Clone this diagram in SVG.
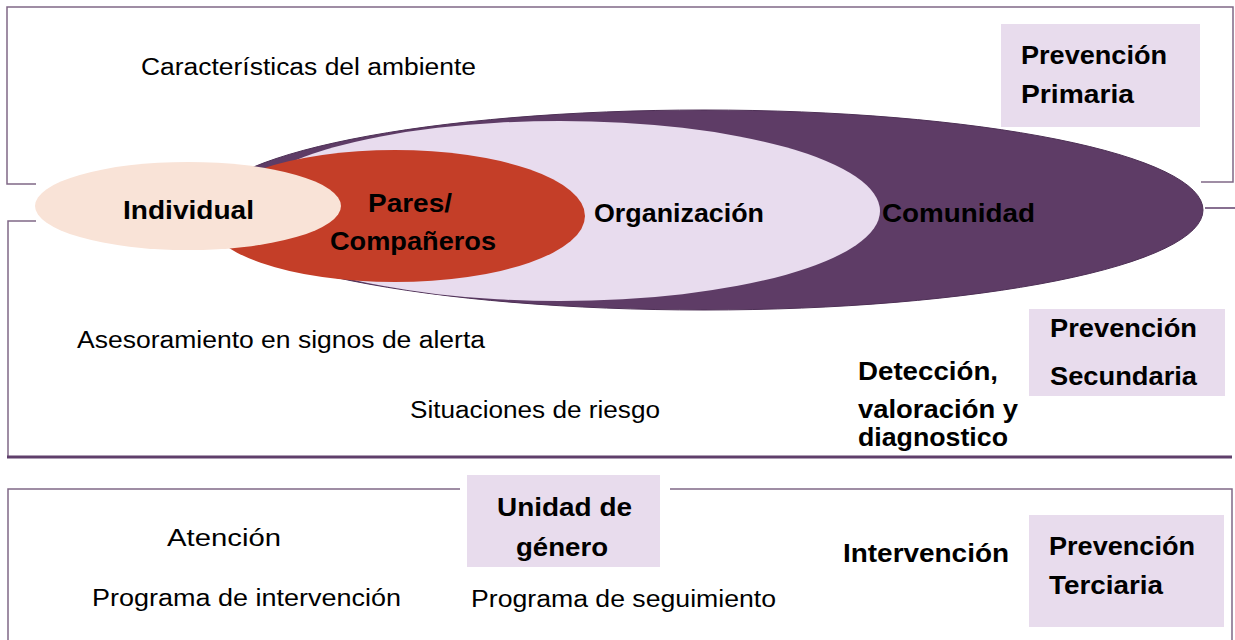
<svg xmlns="http://www.w3.org/2000/svg" width="1235" height="640" viewBox="0 0 1235 640">
<style>
.fr{fill:none;stroke:#806887;stroke-width:1.5}
.frt{fill:none;stroke:#5f3f6b;stroke-width:3}
.lil{fill:#e8dced}
.r{font-family:"Liberation Sans",Arial,sans-serif;font-size:23px;fill:#000}
.b{font-family:"Liberation Sans",Arial,sans-serif;font-size:26px;font-weight:bold;fill:#000}
</style>
<rect width="1235" height="640" fill="#fff"/>
<g id="frames">
<polyline class="fr" points="36,184 7,184 7,7 1233,7 1233,182 1201,182"/>
<polyline class="fr" points="36,221 8,221 8,457"/>
<line class="frt" x1="7" y1="457" x2="1232" y2="457"/>
<line class="fr" x1="1205" y1="208" x2="1235" y2="208" stroke-width="2" style="stroke:#5f3f6b"/>
<polyline class="fr" points="460,489 8,489 8,640"/>
<polyline class="fr" points="670,489 1232,489 1232,640"/>
</g>
<g id="comunidad">
<ellipse cx="704" cy="210" rx="499" ry="100" fill="#5e3c66" stroke="#4e3056" stroke-width="1"/>
<text class="b" x="882" y="222" textLength="153" lengthAdjust="spacingAndGlyphs">Comunidad</text>
</g>
<g id="organizacion">
<ellipse cx="560" cy="211" rx="320" ry="90" fill="#e8dcee"/>
<text class="b" x="594" y="222" textLength="170" lengthAdjust="spacingAndGlyphs">Organización</text>
</g>
<g id="pares">
<ellipse cx="395" cy="216" rx="190" ry="66" fill="#c43e28"/>
<text class="b" x="368" y="212" textLength="84" lengthAdjust="spacingAndGlyphs">Pares/</text>
<text class="b" x="330" y="250" textLength="166" lengthAdjust="spacingAndGlyphs">Compañeros</text>
</g>
<g id="individual">
<ellipse cx="188" cy="206" rx="153" ry="44" fill="#f9e3d7"/>
<text class="b" x="123" y="219" textLength="131" lengthAdjust="spacingAndGlyphs">Individual</text>
</g>
<g id="ambiente">
<text class="r" x="141" y="75" textLength="335" lengthAdjust="spacingAndGlyphs">Características del ambiente</text>
</g>
<g id="prev-primaria">
<rect class="lil" x="1001" y="24" width="199" height="103"/>
<text class="b" x="1021" y="64" textLength="146" lengthAdjust="spacingAndGlyphs">Prevención</text>
<text class="b" x="1021" y="103" textLength="113" lengthAdjust="spacingAndGlyphs">Primaria</text>
</g>
<g id="asesoramiento">
<text class="r" x="77" y="348" textLength="408" lengthAdjust="spacingAndGlyphs">Asesoramiento en signos de alerta</text>
</g>
<g id="situaciones">
<text class="r" x="410" y="418" textLength="250" lengthAdjust="spacingAndGlyphs">Situaciones de riesgo</text>
</g>
<g id="deteccion">
<text class="b" x="858" y="380" textLength="140" lengthAdjust="spacingAndGlyphs">Detección,</text>
<text class="b" x="858" y="418" textLength="160" lengthAdjust="spacingAndGlyphs">valoración y</text>
<text class="b" x="858" y="446" textLength="150" lengthAdjust="spacingAndGlyphs">diagnostico</text>
</g>
<g id="prev-secundaria">
<rect class="lil" x="1029" y="309" width="196" height="87"/>
<text class="b" x="1050" y="337" textLength="147" lengthAdjust="spacingAndGlyphs">Prevención</text>
<text class="b" x="1050" y="385" textLength="147" lengthAdjust="spacingAndGlyphs">Secundaria</text>
</g>
<g id="unidad-genero">
<rect class="lil" x="467" y="475" width="193" height="92"/>
<text class="b" x="497" y="516" textLength="135" lengthAdjust="spacingAndGlyphs">Unidad de</text>
<text class="b" x="516" y="556" textLength="92" lengthAdjust="spacingAndGlyphs">género</text>
</g>
<g id="atencion">
<text class="r" x="167" y="546" textLength="114" lengthAdjust="spacingAndGlyphs">Atención</text>
</g>
<g id="prog-intervencion">
<text class="r" x="92" y="606" textLength="309" lengthAdjust="spacingAndGlyphs">Programa de intervención</text>
</g>
<g id="prog-seguimiento">
<text class="r" x="471" y="607" textLength="305" lengthAdjust="spacingAndGlyphs">Programa de seguimiento</text>
</g>
<g id="intervencion">
<text class="b" x="843" y="562" textLength="166" lengthAdjust="spacingAndGlyphs">Intervención</text>
</g>
<g id="prev-terciaria">
<rect class="lil" x="1029" y="515" width="195" height="112"/>
<text class="b" x="1049" y="555" textLength="146" lengthAdjust="spacingAndGlyphs">Prevención</text>
<text class="b" x="1049" y="594" textLength="114" lengthAdjust="spacingAndGlyphs">Terciaria</text>
</g>
</svg>
